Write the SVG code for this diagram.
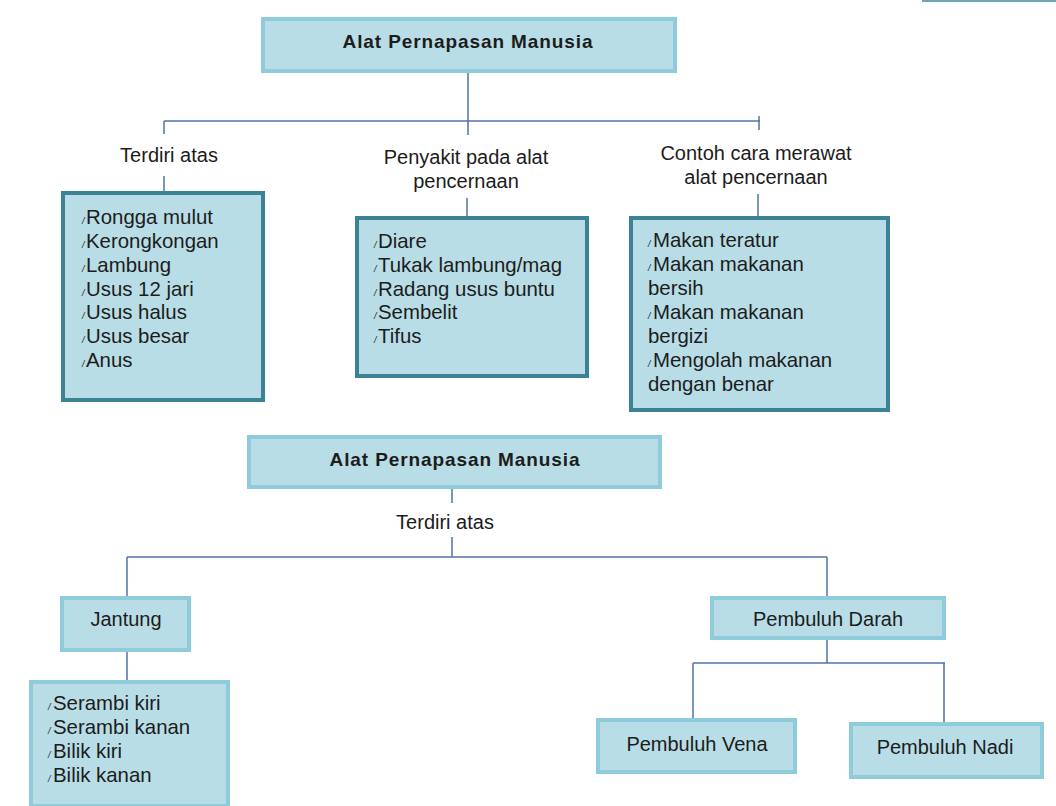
<svg xmlns="http://www.w3.org/2000/svg" width="1056" height="806" viewBox="0 0 1056 806">
<style>
  text { font-family: "Liberation Sans", Arial, sans-serif; fill: #1c1c1c; }
  .title { font-size: 19px; font-weight: bold; letter-spacing: 0.9px; text-anchor: middle; }
  .lbl { font-size: 20px; text-anchor: middle; }
  .item { font-size: 20.4px; }
  .b { font-size: 9px; font-style: italic; }
  .light { fill: #b8dde6; stroke: #8ecbdb; stroke-width: 4; }
  .dark { fill: #b8dde6; stroke: #3b8294; stroke-width: 4; }
  .conn line { stroke: #4f73a6; stroke-width: 1.5; }
</style>
<rect width="1056" height="806" fill="#ffffff"/>
<line x1="922" y1="1" x2="1056" y2="1" stroke="#6fa5b3" stroke-width="2"/>

<g class="conn" id="connectors">
  <line x1="468" y1="72" x2="468" y2="135"/>
  <line x1="164" y1="121" x2="760" y2="121"/>
  <line x1="164" y1="121" x2="164" y2="134"/>
  <line x1="759" y1="116" x2="759" y2="130"/>
  <line x1="164" y1="176" x2="164" y2="193"/>
  <line x1="467" y1="198" x2="467" y2="218"/>
  <line x1="758" y1="194" x2="758" y2="218"/>
  <line x1="452" y1="488" x2="452" y2="503"/>
  <line x1="452" y1="537" x2="452" y2="557"/>
  <line x1="127" y1="557" x2="827" y2="557"/>
  <line x1="127" y1="557" x2="127" y2="598"/>
  <line x1="827" y1="557" x2="827" y2="598"/>
  <line x1="127" y1="651" x2="127" y2="682"/>
  <line x1="827" y1="639" x2="827" y2="663"/>
  <line x1="693" y1="663" x2="945" y2="663"/>
  <line x1="693" y1="663" x2="693" y2="720"/>
  <line x1="944" y1="663" x2="944" y2="724"/>
</g>

<g id="top-title">
  <rect class="light" x="263" y="19" width="412" height="52"/>
  <text class="title" x="468" y="48">Alat Pernapasan Manusia</text>
</g>

<g id="label-terdiri-1">
  <text class="lbl" x="169" y="162">Terdiri atas</text>
</g>
<g id="label-penyakit">
  <text class="lbl" x="466" y="164">Penyakit pada alat</text>
  <text class="lbl" x="466" y="188">pencernaan</text>
</g>
<g id="label-contoh">
  <text class="lbl" x="756" y="160">Contoh cara merawat</text>
  <text class="lbl" x="756" y="184">alat pencernaan</text>
</g>

<g id="box-terdiri">
  <rect class="dark" x="63" y="193" width="200" height="207"/>
  <text class="b" x="82" y="224">/</text><text class="item" x="86" y="224">Rongga mulut</text>
  <text class="b" x="82" y="248">/</text><text class="item" x="86" y="248">Kerongkongan</text>
  <text class="b" x="82" y="272">/</text><text class="item" x="86" y="272">Lambung</text>
  <text class="b" x="82" y="296">/</text><text class="item" x="86" y="296">Usus 12 jari</text>
  <text class="b" x="82" y="319">/</text><text class="item" x="86" y="319">Usus halus</text>
  <text class="b" x="82" y="343">/</text><text class="item" x="86" y="343">Usus besar</text>
  <text class="b" x="82" y="367">/</text><text class="item" x="86" y="367">Anus</text>
</g>

<g id="box-penyakit">
  <rect class="dark" x="357" y="218" width="230" height="158"/>
  <text class="b" x="374" y="248">/</text><text class="item" x="378" y="248">Diare</text>
  <text class="b" x="374" y="272">/</text><text class="item" x="378" y="272">Tukak lambung/mag</text>
  <text class="b" x="374" y="296">/</text><text class="item" x="378" y="296">Radang usus buntu</text>
  <text class="b" x="374" y="319">/</text><text class="item" x="378" y="319">Sembelit</text>
  <text class="b" x="374" y="343">/</text><text class="item" x="378" y="343">Tifus</text>
</g>

<g id="box-contoh">
  <rect class="dark" x="631" y="218" width="257" height="192"/>
  <text class="b" x="648" y="247">/</text><text class="item" x="653" y="247">Makan teratur</text>
  <text class="b" x="648" y="271">/</text><text class="item" x="653" y="271">Makan makanan</text>
  <text class="item" x="648" y="295">bersih</text>
  <text class="b" x="648" y="319">/</text><text class="item" x="653" y="319">Makan makanan</text>
  <text class="item" x="648" y="343">bergizi</text>
  <text class="b" x="648" y="367">/</text><text class="item" x="653" y="367">Mengolah makanan</text>
  <text class="item" x="648" y="391">dengan benar</text>
</g>

<g id="bottom-title">
  <rect class="light" x="249" y="437" width="411" height="50"/>
  <text class="title" x="455" y="466">Alat Pernapasan Manusia</text>
</g>

<g id="label-terdiri-2">
  <text class="lbl" x="445" y="529">Terdiri atas</text>
</g>

<g id="box-jantung">
  <rect class="light" x="62" y="598" width="127" height="52"/>
  <text class="lbl" x="126" y="626">Jantung</text>
</g>

<g id="box-jantung-list">
  <rect class="light" x="31" y="682" width="197" height="124"/>
  <text class="b" x="48" y="710">/</text><text class="item" x="53" y="710">Serambi kiri</text>
  <text class="b" x="48" y="734">/</text><text class="item" x="53" y="734">Serambi kanan</text>
  <text class="b" x="48" y="758">/</text><text class="item" x="53" y="758">Bilik kiri</text>
  <text class="b" x="48" y="782">/</text><text class="item" x="53" y="782">Bilik kanan</text>
</g>

<g id="box-pembuluh-darah">
  <rect class="light" x="712" y="598" width="232" height="40"/>
  <text class="lbl" x="828" y="626">Pembuluh Darah</text>
</g>

<g id="box-vena">
  <rect class="light" x="598" y="720" width="197" height="52"/>
  <text class="lbl" x="697" y="751">Pembuluh Vena</text>
</g>

<g id="box-nadi">
  <rect class="light" x="851" y="724" width="191" height="53"/>
  <text class="lbl" x="945" y="754">Pembuluh Nadi</text>
</g>
</svg>
